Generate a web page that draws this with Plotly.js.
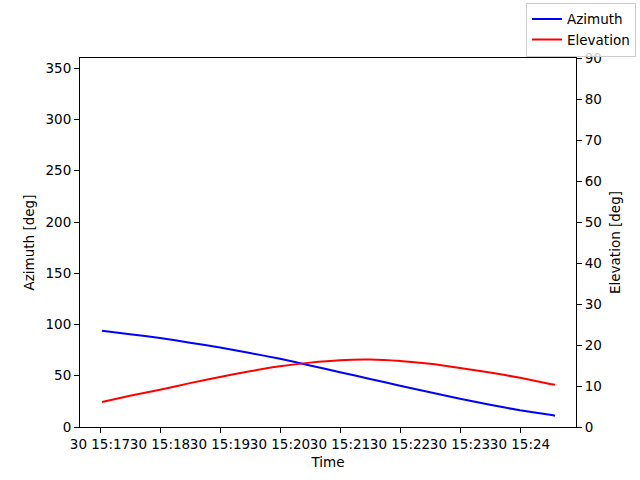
<!DOCTYPE html>
<html>
<head>
<meta charset="utf-8">
<script src="https://cdn.plot.ly/plotly-3.0.1.min.js"></script>
<style>
  html, body { margin: 0; padding: 0; background: white; }
  #chart { width: 640px; height: 480px; }
</style>
</head>
<body>
<div id="chart"></div>
<script>
// pass times (every 30 s)
var times =
[
    '2024-06-30 15:17:02', '2024-06-30 15:17:30', '2024-06-30 15:18:00',
    '2024-06-30 15:18:30', '2024-06-30 15:19:00', '2024-06-30 15:19:30',
    '2024-06-30 15:20:00', '2024-06-30 15:20:30', '2024-06-30 15:21:00',
    '2024-06-30 15:21:30', '2024-06-30 15:22:00', '2024-06-30 15:22:30',
    '2024-06-30 15:23:00', '2024-06-30 15:23:30', '2024-06-30 15:24:00',
    '2024-06-30 15:24:30', '2024-06-30 15:24:35'
];

var azimuth = [94.0, 90.6, 86.8, 82.3, 77.5, 72.2, 66.5, 60.1, 53.5, 46.9, 40.3, 33.8, 27.5, 21.7, 16.3, 11.9, 11.0];

var elevation = [6.1, 7.6, 9.1, 10.7, 12.2, 13.6, 14.8, 15.7, 16.3, 16.45, 16.1, 15.4, 14.4, 13.3, 12.0, 10.5, 10.3];

var font = {family: 'DejaVu Sans, sans-serif', size: 13.5, color: 'black'};

var trace_az =
{
    type: 'scatter',
    mode: 'lines',
    name: 'Azimuth',
    x: times,
    y: azimuth,
    line: {color: 'blue', width: 2, shape: 'spline', smoothing: 0.5},
    yaxis: 'y'
};

var trace_el =
{
    type: 'scatter',
    mode: 'lines',
    name: 'Elevation',
    x: times,
    y: elevation,
    line: {color: 'red', width: 2, shape: 'spline', smoothing: 0.5},
    yaxis: 'y2'
};

var layout =
{
    width: 640,
    height: 480,
    font: font,
    paper_bgcolor: 'white',
    plot_bgcolor: 'white',
    showlegend: true,
    margin: {l: 80, r: 64, t: 58, b: 53, autoexpand: false},
    xaxis:
    {
        type: 'date',
        range: ['2024-06-30 15:16:40', '2024-06-30 15:24:56'],
        tick0: '2024-06-30 15:17:00',
        dtick: 60000,
        tickformat: '%d %H:%M',
        tickangle: 0,
        ticks: 'outside',
        ticklen: 5,
        tickcolor: 'black',
        showline: true,
        linecolor: 'black',
        linewidth: 1,
        mirror: true,
        showgrid: false,
        zeroline: false,
        automargin: false,
        title: {text: 'Time', font: font, standoff: 6}
    },
    yaxis:
    {
        range: [0, 360],
        dtick: 50,
        ticks: 'outside',
        ticklen: 5,
        tickcolor: 'black',
        showline: true,
        linecolor: 'black',
        linewidth: 1,
        showgrid: false,
        zeroline: false,
        automargin: false,
        title: {text: 'Azimuth [deg]', font: font, standoff: 7}
    },
    yaxis2:
    {
        overlaying: 'y',
        side: 'right',
        range: [0, 90],
        dtick: 10,
        ticks: 'outside',
        ticklen: 5,
        tickcolor: 'black',
        showline: true,
        linecolor: 'black',
        linewidth: 1,
        showgrid: false,
        zeroline: false,
        automargin: false,
        title: {text: 'Elevation [deg]', font: font, standoff: 9}
    },
    legend:
    {
        x: 1.121,
        xanchor: 'right',
        y: 1.15,
        yanchor: 'top',
        bgcolor: 'rgba(255,255,255,0.8)',
        bordercolor: '#cccccc',
        borderwidth: 1,
        font: font,
        tracegroupgap: 0
    }
};

Plotly.newPlot('chart', [trace_az, trace_el], layout, {displayModeBar: false, staticPlot: true});
</script>
</body>
</html>
